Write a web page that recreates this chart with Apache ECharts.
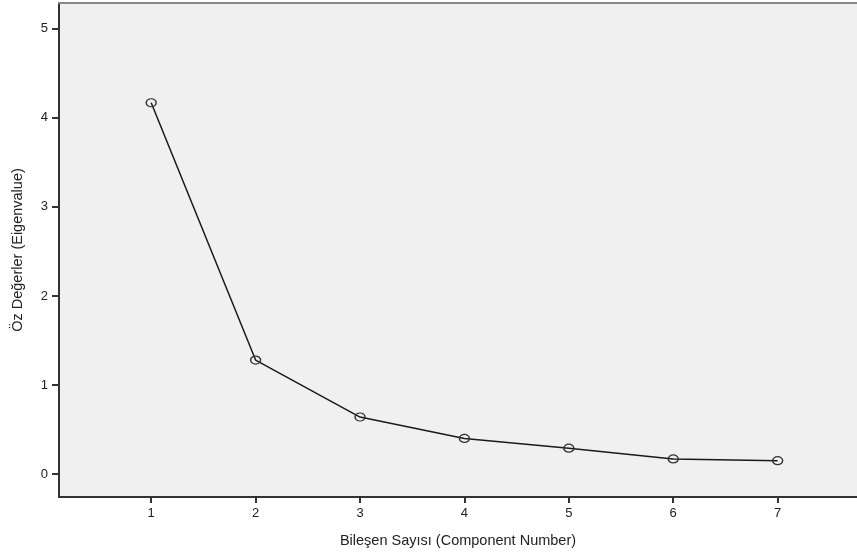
<!DOCTYPE html>
<html>
<head>
<meta charset="utf-8">
<script src="https://cdn.jsdelivr.net/npm/echarts@6/dist/echarts.min.js"></script>
<style>
  html, body { margin: 0; padding: 0; background: #fff; }
  #chart { width: 857px; height: 553px; }
</style>
</head>
<body>
<div id="chart"></div>
<script>
// bileşen numaraları ve öz değerler
const components = [1, 2, 3, 4, 5, 6, 7];
const eigenvalues = [4.17, 1.28, 0.64, 0.40, 0.29, 0.17, 0.15];
const xTicks = [1, 2, 3, 4, 5, 6, 7];
const yTicks = [0, 1, 2, 3, 4, 5];

const chart = echarts.init(document.getElementById('chart'));
const fontFamily = 'Liberation Sans, Arial, sans-serif';

const option = {
  animation: false,
  grid: {   // çizim alanı
    left: 59, right: 0, top: 3, bottom: 55,
    show: true,
    backgroundColor: '#f0f0f0',
    borderWidth: 0
  },
  xAxis: [
    {
      type: 'value',
      min: 0.117,
      max: 7.76,
      name: 'Bileşen Sayısı (Component Number)',
      nameLocation: 'middle',
      nameGap: 36,
      nameTextStyle: { color: '#222', fontSize: 14.5, fontFamily: fontFamily },
      splitLine: { show: false },
      axisLine: { onZero: false, lineStyle: { color: '#333', width: 2 } },
      axisTick: { customValues: xTicks, length: 6, lineStyle: { color: '#333', width: 2 } },
      axisLabel: { customValues: xTicks, margin: 10, color: '#222', fontSize: 13, fontFamily: fontFamily }
    },
    {
      // üst çerçeve çizgisi
      type: 'value',
      position: 'top',
      min: 0.117,
      max: 7.76,
      splitLine: { show: false },
      axisLine: { onZero: false, lineStyle: { color: '#888', width: 2 } },
      axisTick: { show: false },
      axisLabel: { show: false }
    }
  ],
  yAxis: {
    type: 'value',
    min: -0.258,
    max: 5.29,
    name: 'Öz Değerler (Eigenvalue)',
    nameLocation: 'middle',
    nameGap: 34,
    nameTextStyle: { color: '#222', fontSize: 14.5, fontFamily: fontFamily },
    splitLine: { show: false },
    axisLine: { show: true, onZero: false, lineStyle: { color: '#333', width: 2 } },
    axisTick: { show: true, customValues: yTicks, length: 7, lineStyle: { color: '#333', width: 2 } },
    axisLabel: { customValues: yTicks, margin: 11, color: '#222', fontSize: 13, fontFamily: fontFamily }
  },
  series: [
    {
      type: 'line',
      xAxisIndex: 0,
      data: components.map((c, i) => [c, eigenvalues[i]]),
      symbol: 'circle',
      symbolSize: [10, 8],
      lineStyle: { color: '#1a1a1a', width: 1.5 },
      itemStyle: { color: 'rgba(0,0,0,0)', borderColor: '#333', borderWidth: 1.3 }
    }
  ]
};
chart.setOption(option);
</script>
</body>
</html>
